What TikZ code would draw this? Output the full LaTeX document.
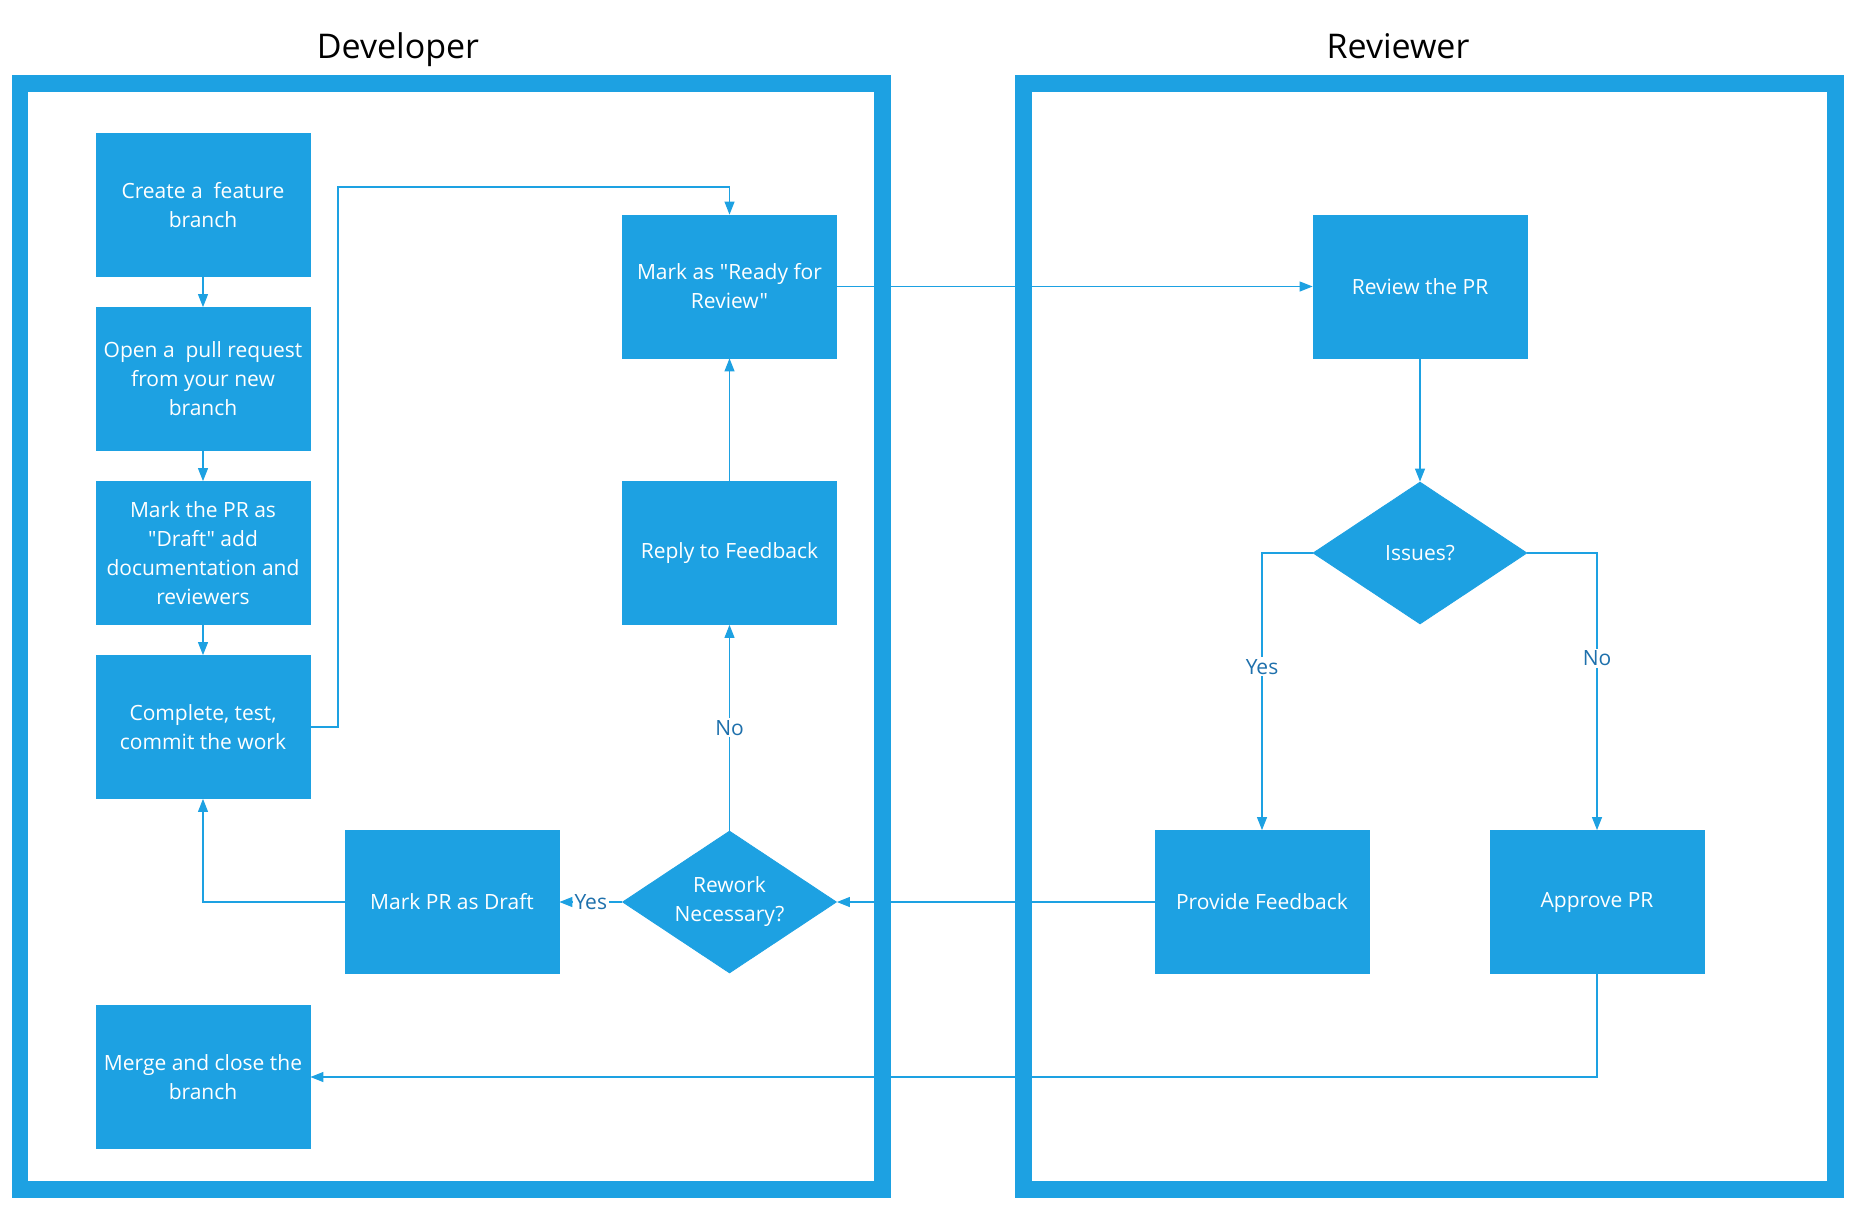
\documentclass[tikz,border=0pt]{standalone}
\usepackage{fontspec}
\setmainfont{Open Sans}[Ligatures=TeXOff]
\usetikzlibrary{shapes.geometric,arrows.meta}
\definecolor{mblue}{RGB}{29,161,226}
\definecolor{lblue}{RGB}{30,112,172}
\tikzset{
  box/.style={draw=mblue, fill=mblue, minimum width=107pt, minimum height=71.5pt, inner sep=0pt, align=center, text=white, font=\fontsize{10.5}{14.5}\selectfont},
  dia/.style={diamond, shape aspect=1.5, draw=mblue, fill=mblue, minimum width=107pt, minimum height=71pt, inner sep=0pt, align=center, text=white, font=\fontsize{10.5}{14.5}\selectfont},
  conn/.style={draw=mblue, line width=0.55pt, -{Triangle[length=6.5pt,width=5pt]}},
  lbl/.style={fill=white, text=lblue, inner sep=1pt, font=\fontsize{10.5}{12}\selectfont},
  lane/.style={draw=mblue, line width=8.25pt},
  title/.style={font=\fontsize{17}{20}\selectfont, text=black, anchor=base}
}
\begin{document}
\begin{tikzpicture}[x=0.5pt,y=-0.5pt]
\useasboundingbox (0,0) rectangle (1856,1210);
% lanes
\draw[lane] (20,83.5) rectangle (882.5,1189.5);
\draw[lane] (1023.5,83.5) rectangle (1835.5,1189.5);
\node[title] (tdev) at (398,58) {Developer};
\node[title] (trev) at (1398,58) {Reviewer};
% developer nodes
\node[box] (create) at (203,205) {Create a \ feature\\branch};
\node[box] (open) at (203,379) {Open a \ pull request\\from your new\\branch};
\node[box] (draft) at (203,553) {Mark the PR as\\"Draft" add\\documentation and\\reviewers};
\node[box] (complete) at (203,727) {Complete, test,\\commit the work};
\node[box] (merge) at (203,1077) {Merge and close the\\branch};
\node[box] (ready) at (729.5,286.5) {Mark as "Ready for\\Review"};
\node[box] (reply) at (729.5,553) {Reply to Feedback};
\node[dia] (rework) at (729.5,902) {Rework\\Necessary?};
\node[box] (markdraft) at (452,902) {Mark PR as Draft};
% reviewer nodes
\node[box] (review) at (1420,286.5) {Review the PR};
\node[dia] (issues) at (1420,553) {Issues?};
\node[box] (provide) at (1262,902) {Provide Feedback};
\node[box] (approve) at (1597,902) {Approve PR};
\coordinate (c1) at (338,187);
% connectors
\draw[conn] (create) -- (open);
\draw[conn] (open) -- (draft);
\draw[conn] (draft) -- (complete);
\draw[conn] (complete.east) -| (c1) -| (ready.north);
\draw[conn] (ready) -- (review);
\draw[conn] (review) -- (issues);
\draw[conn] (issues.west) -| node[lbl, pos=0.705] {Yes} (provide.north);
\draw[conn] (issues.east) -| node[lbl, pos=0.69] {No} (approve.north);
\draw[conn] (provide.west) -- (rework.east);
\draw[conn] (rework.west) -- node[lbl, pos=0.5] {Yes} (markdraft.east);
\draw[conn] (rework.north) -- node[lbl, pos=0.5] {No} (reply.south);
\draw[conn] (reply) -- (ready);
\draw[conn] (markdraft.west) -| (complete.south);
\draw[conn] (approve.south) |- (merge.east);
\end{tikzpicture}
\end{document}
